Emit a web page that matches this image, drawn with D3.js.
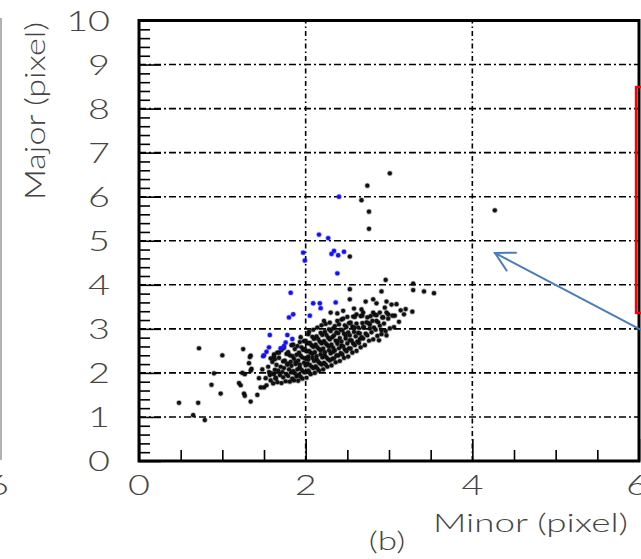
<!DOCTYPE html>
<html>
<head>
<meta charset="utf-8">
<script src="https://cdn.jsdelivr.net/npm/d3@7"></script>
<style>
  body { margin: 0; background: #fff; }
  svg { display: block; }
  .lbl { font-family: Lato, 'Liberation Sans', Arial, sans-serif; font-weight: 300; fill: #444; }
</style>
</head>
<body>
<svg id="chart" width="641" height="559"></svg>
<script>
// Axis ticks
const xMajorTicks = [0, 2, 4, 6];
const xMinorTicks = [0.5, 1, 1.5, 2.5, 3, 3.5, 4.5, 5, 5.5];
const yMajorTicks = [0, 1, 2, 3, 4, 5, 6, 7, 8, 9, 10];
const yGridValues = [1, 2, 3, 4, 5, 6, 7, 8, 9];
const xGridValues = [2, 4];

// Blobs flagged in blue: [minor, major] in pixels
const bluePoints = [
  [2.40,6.00],[2.16,5.14],[2.27,5.06],[1.97,4.73],[1.99,4.55],[2.34,4.77],
  [2.31,4.70],[2.39,4.67],[2.46,4.75],[2.38,4.26],[1.82,3.82],[2.09,3.58],
  [2.17,3.58],[2.18,3.47],[2.36,3.60],[1.85,3.33],[1.80,3.26],[2.05,3.30],
  [1.57,2.86],[1.78,2.86],[1.84,2.77],[1.76,2.69],[1.74,2.61],[1.70,2.56],
  [1.56,2.58],[1.53,2.48],[1.49,2.38]
];

// Remaining blobs: scattered ones first, then the dense core
const blackPoints = [
  [3.01,6.53],[2.74,6.25],[2.67,5.92],[2.76,5.66],[2.76,5.27],[4.27,5.69],
  [2.53,4.64],[2.96,4.11],[3.29,4.03],[3.29,3.88],[2.91,3.85],[2.53,3.90],
  [3.42,3.85],[3.54,3.81],[2.53,3.67],[2.81,3.67],[2.72,3.62],[2.85,3.58],
  [2.97,3.62],[3.09,3.56],[3.03,3.55],[2.30,3.37],[2.38,3.35],[2.45,3.41],
  [2.58,3.46],[2.61,3.33],[2.69,3.37],[2.74,3.26],[2.81,3.37],[2.89,3.37],
  [2.99,3.33],[3.07,3.30],[3.28,3.39],[3.18,3.33],[3.12,3.16],[2.93,3.26],
  [2.85,3.18],[2.77,3.10],[2.69,3.03],[2.91,2.97],[2.65,2.77],[2.22,3.18],
  [3.20,3.45],[3.14,3.42],[2.95,3.48],[2.67,3.44],[2.88,2.74],[2.97,2.85],
  [0.72,2.56],[1.25,2.54],[1.00,2.40],[1.34,2.39],[1.33,2.36],[1.50,2.40],
  [1.62,2.42],[1.66,2.46],[1.32,2.22],[1.35,2.09],[1.34,2.05],[0.90,1.99],
  [1.24,2.00],[1.27,1.97],[1.48,2.08],[1.56,2.02],[1.62,1.97],[1.44,1.88],
  [1.52,1.88],[1.58,1.83],[1.64,1.88],[0.87,1.73],[1.20,1.77],[1.22,1.72],
  [1.46,1.67],[1.50,1.67],[0.98,1.53],[1.26,1.53],[1.27,1.48],[1.42,1.50],
  [1.34,1.35],[0.48,1.32],[0.71,1.32],[0.65,1.04],[0.79,0.93],
  [1.53,1.72],[1.57,1.95],[1.55,2.14],[1.58,2.33],
  [1.61,1.76],[1.59,1.99],[1.63,2.07],[1.60,2.25],[1.62,2.37],
  [1.66,1.79],[1.64,1.88],[1.67,2.05],[1.65,2.18],[1.63,2.31],[1.68,2.46],
  [1.71,1.77],[1.69,1.95],[1.72,2.02],[1.70,2.14],[1.73,2.26],[1.68,2.34],[1.71,2.52],
  [1.76,1.81],[1.73,1.90],[1.77,1.97],[1.74,2.11],[1.78,2.19],[1.75,2.28],[1.77,2.43],[1.74,2.57],
  [1.81,1.80],[1.79,1.93],[1.83,2.01],[1.80,2.08],[1.78,2.21],[1.82,2.25],[1.81,2.40],[1.79,2.47],[1.83,2.63],
  [1.86,1.83],[1.84,1.87],[1.87,1.99],[1.85,2.04],[1.83,2.16],[1.88,2.20],[1.86,2.32],[1.84,2.38],[1.87,2.54],[1.85,2.64],
  [1.91,1.82],[1.89,1.92],[1.92,1.96],[1.90,2.08],[1.93,2.12],[1.88,2.24],[1.91,2.28],[1.89,2.41],[1.92,2.46],[1.90,2.61],[1.93,2.70],
  [1.96,1.87],[1.94,1.91],[1.97,2.03],[1.95,2.07],[1.93,2.19],[1.98,2.23],[1.96,2.35],[1.94,2.39],[1.97,2.52],[1.95,2.58],[1.98,2.72],[1.94,2.81],
  [2.01,1.89],[1.99,2.01],[2.03,2.05],[2.00,2.17],[2.02,2.21],[1.99,2.33],[2.03,2.37],[2.01,2.49],[1.99,2.54],[2.02,2.67],[2.00,2.73],[2.03,2.88],
  [2.06,1.97],[2.04,2.02],[2.07,2.14],[2.05,2.18],[2.03,2.30],[2.08,2.34],[2.06,2.46],[2.04,2.50],[2.07,2.63],[2.05,2.68],[2.08,2.82],[2.04,2.93],
  [2.11,2.00],[2.09,2.11],[2.12,2.15],[2.10,2.27],[2.13,2.31],[2.08,2.43],[2.11,2.47],[2.09,2.59],[2.12,2.64],[2.10,2.77],[2.13,2.83],[2.09,2.98],
  [2.16,2.05],[2.14,2.10],[2.17,2.22],[2.15,2.26],[2.13,2.38],[2.18,2.42],[2.16,2.54],[2.14,2.58],[2.17,2.71],[2.15,2.77],[2.18,2.91],[2.14,3.03],
  [2.21,2.08],[2.19,2.19],[2.22,2.23],[2.20,2.35],[2.23,2.39],[2.18,2.51],[2.21,2.55],[2.19,2.67],[2.22,2.72],[2.20,2.86],[2.23,2.93],[2.19,3.08],
  [2.26,2.14],[2.24,2.19],[2.27,2.31],[2.25,2.35],[2.23,2.47],[2.28,2.51],[2.26,2.63],[2.24,2.67],[2.27,2.80],[2.25,2.86],[2.28,2.99],[2.24,3.11],
  [2.31,2.17],[2.29,2.28],[2.32,2.32],[2.30,2.44],[2.33,2.48],[2.28,2.60],[2.31,2.64],[2.29,2.76],[2.32,2.81],[2.30,2.95],[2.33,3.01],[2.29,3.14],
  [2.36,2.24],[2.34,2.33],[2.37,2.40],[2.35,2.51],[2.33,2.57],[2.38,2.66],[2.36,2.73],[2.34,2.85],[2.37,2.92],[2.35,3.06],[2.38,3.18],
  [2.41,2.27],[2.39,2.39],[2.42,2.45],[2.40,2.56],[2.43,2.62],[2.38,2.72],[2.41,2.79],[2.39,2.90],[2.42,2.98],[2.40,3.10],[2.43,3.21],
  [2.46,2.34],[2.44,2.42],[2.47,2.53],[2.45,2.60],[2.43,2.71],[2.48,2.78],[2.46,2.89],[2.44,2.97],[2.47,3.08],[2.45,3.23],
  [2.51,2.37],[2.49,2.49],[2.52,2.56],[2.50,2.67],[2.53,2.74],[2.48,2.85],[2.51,2.92],[2.49,3.04],[2.52,3.13],[2.50,3.27],
  [2.56,2.46],[2.54,2.55],[2.57,2.67],[2.55,2.74],[2.53,2.85],[2.58,2.93],[2.56,3.05],[2.54,3.14],[2.57,3.28],
  [2.61,2.50],[2.59,2.63],[2.62,2.71],[2.60,2.83],[2.63,2.91],[2.58,3.03],[2.61,3.12],[2.59,3.27],
  [2.66,2.58],[2.64,2.68],[2.67,2.81],[2.65,2.90],[2.63,3.03],[2.68,3.13],[2.66,3.29],
  [2.71,2.63],[2.69,2.78],[2.72,2.89],[2.70,3.04],[2.73,3.15],[2.68,3.30],
  [2.76,2.73],[2.74,2.85],[2.77,3.01],[2.75,3.13],[2.78,3.29],
  [2.81,2.76],[2.79,2.92],[2.82,3.03],[2.80,3.18],[2.83,3.32],
  [2.86,2.84],[2.84,2.98],[2.87,3.15],[2.85,3.31],
  [2.91,2.88],[2.89,3.07],[2.92,3.26],
  [2.96,2.95],[2.94,3.12],[2.97,3.37],
  [3.01,3.01],[2.99,3.23],
  [3.06,3.04],[3.04,3.30]
];

const svg = d3.select("#chart");
const textStretch = 1.35;          // glyphs are drawn wide

const x = d3.scaleLinear().domain([0, 6]).range([139, 639]);
const y = d3.scaleLinear().domain([0, 10]).range([461, 20.5]);

// neighbouring panel edge on the far left
svg.append("line")
  .attr("x1", 1).attr("x2", 1).attr("y1", 18).attr("y2", 460)
  .attr("stroke", "#999").attr("stroke-width", 1.5);
svg.append("text").attr("class", "lbl")
  .attr("transform", `translate(-2,495) scale(${textStretch},1)`)
  .attr("text-anchor", "middle").attr("font-size", 28)
  .text("6");

// dash-dot grid
const grid = svg.append("g")
  .attr("stroke", "#000").attr("stroke-width", 1.6)
  .attr("stroke-dasharray", "7,3,2,3");
grid.selectAll("line.h").data(yGridValues).join("line")
  .attr("class", "h")
  .attr("x1", x(0)).attr("x2", x(6))
  .attr("y1", d => y(d)).attr("y2", d => y(d));
grid.selectAll("line.v").data(xGridValues).join("line")
  .attr("class", "v")
  .attr("x1", d => x(d)).attr("x2", d => x(d))
  .attr("y1", y(0)).attr("y2", y(10))
  .attr("stroke-dasharray", "5,3,1.5,3");

// ticks (inward)
function tickAxis(axis) {
  return g => {
    g.call(axis);
    g.select(".domain").remove();
    g.selectAll(".tick line").attr("stroke", "#000").attr("stroke-width", 1.6);
    g.selectAll(".tick text").remove();
  };
}
const yMinorTicks = d3.range(0, 50).map(i => i / 5).filter(v => v % 1 !== 0);
svg.append("g").attr("transform", `translate(${x(0)},0)`)
  .call(tickAxis(d3.axisLeft(y).tickValues(yMinorTicks).tickSize(-11).tickFormat("")));
svg.append("g").attr("transform", `translate(${x(0)},0)`)
  .call(tickAxis(d3.axisLeft(y).tickValues(yMajorTicks).tickSize(-22).tickFormat("")));
svg.append("g").attr("transform", `translate(0,${y(0)})`)
  .call(tickAxis(d3.axisBottom(x).tickValues(xMinorTicks).tickSize(-11).tickFormat("")));
svg.append("g").attr("transform", `translate(0,${y(0)})`)
  .call(tickAxis(d3.axisBottom(x).tickValues(xMajorTicks).tickSize(-22).tickFormat("")));

// tick labels
svg.append("g").selectAll("text").data(yMajorTicks).join("text").attr("class", "lbl")
  .attr("transform", d => `translate(110,${y(d)}) scale(${textStretch},1)`)
  .attr("text-anchor", "end").attr("dy", "0.36em").attr("font-size", 28)
  .text(d => d);
svg.append("g").selectAll("text").data(xMajorTicks).join("text").attr("class", "lbl")
  .attr("transform", d => `translate(${x(d) - (d === 6 ? 2 : 0)},495) scale(${textStretch},1)`)
  .attr("text-anchor", "middle").attr("font-size", 28)
  .text(d => d);

// points
svg.append("g").selectAll("circle").data(blackPoints).join("circle")
  .attr("cx", d => x(d[0])).attr("cy", d => y(d[1])).attr("r", 2.1)
  .attr("fill", "#111").attr("stroke", "#000").attr("stroke-opacity", 0.3).attr("stroke-width", 1.5);
svg.append("g").selectAll("circle").data(bluePoints).join("circle")
  .attr("cx", d => x(d[0])).attr("cy", d => y(d[1])).attr("r", 2.2)
  .attr("fill", "#1010ff").attr("stroke", "#3030ff").attr("stroke-opacity", 0.35).attr("stroke-width", 1.3);

// frame
svg.append("rect")
  .attr("x", x(0)).attr("y", y(10))
  .attr("width", x(6) - x(0)).attr("height", y(0) - y(10))
  .attr("fill", "none").attr("stroke", "#000").attr("stroke-width", 3);

// axis titles and panel tag
svg.append("text").attr("class", "lbl")
  .attr("x", 433).attr("y", 532).attr("font-size", 26)
  .attr("textLength", 195).attr("lengthAdjust", "spacingAndGlyphs")
  .text("Minor (pixel)");
svg.append("text").attr("class", "lbl")
  .attr("transform", `translate(45,22) rotate(-90)`)
  .attr("text-anchor", "end").attr("font-size", 28)
  .attr("textLength", 178).attr("lengthAdjust", "spacingAndGlyphs")
  .text("Major (pixel)");
svg.append("text").attr("class", "lbl")
  .attr("transform", `translate(387,550) scale(${textStretch},1)`)
  .attr("text-anchor", "middle").attr("font-size", 26)
  .text("(b)");

// red highlight box running off the right edge
svg.append("rect")
  .attr("x", 636).attr("y", 87).attr("width", 30).attr("height", 226)
  .attr("fill", "none").attr("stroke", "#f00").attr("stroke-width", 2.4);

// annotation arrow pointing at the outlier region
const tip = [495, 253], tail = [660, 340];
const ang = Math.atan2(tail[1] - tip[1], tail[0] - tip[0]);
const headLen = 21, spread = 0.5;
const arrow = svg.append("g")
  .attr("stroke", "#4a7ebb").attr("stroke-width", 2).attr("fill", "none")
  .attr("stroke-linecap", "round");
arrow.append("line")
  .attr("x1", tip[0]).attr("y1", tip[1]).attr("x2", tail[0]).attr("y2", tail[1]);
arrow.append("path")
  .attr("d", d3.line()([
    [tip[0] + headLen * Math.cos(ang - spread), tip[1] + headLen * Math.sin(ang - spread)],
    tip,
    [tip[0] + headLen * Math.cos(ang + spread), tip[1] + headLen * Math.sin(ang + spread)]
  ]));
</script>
</body>
</html>
